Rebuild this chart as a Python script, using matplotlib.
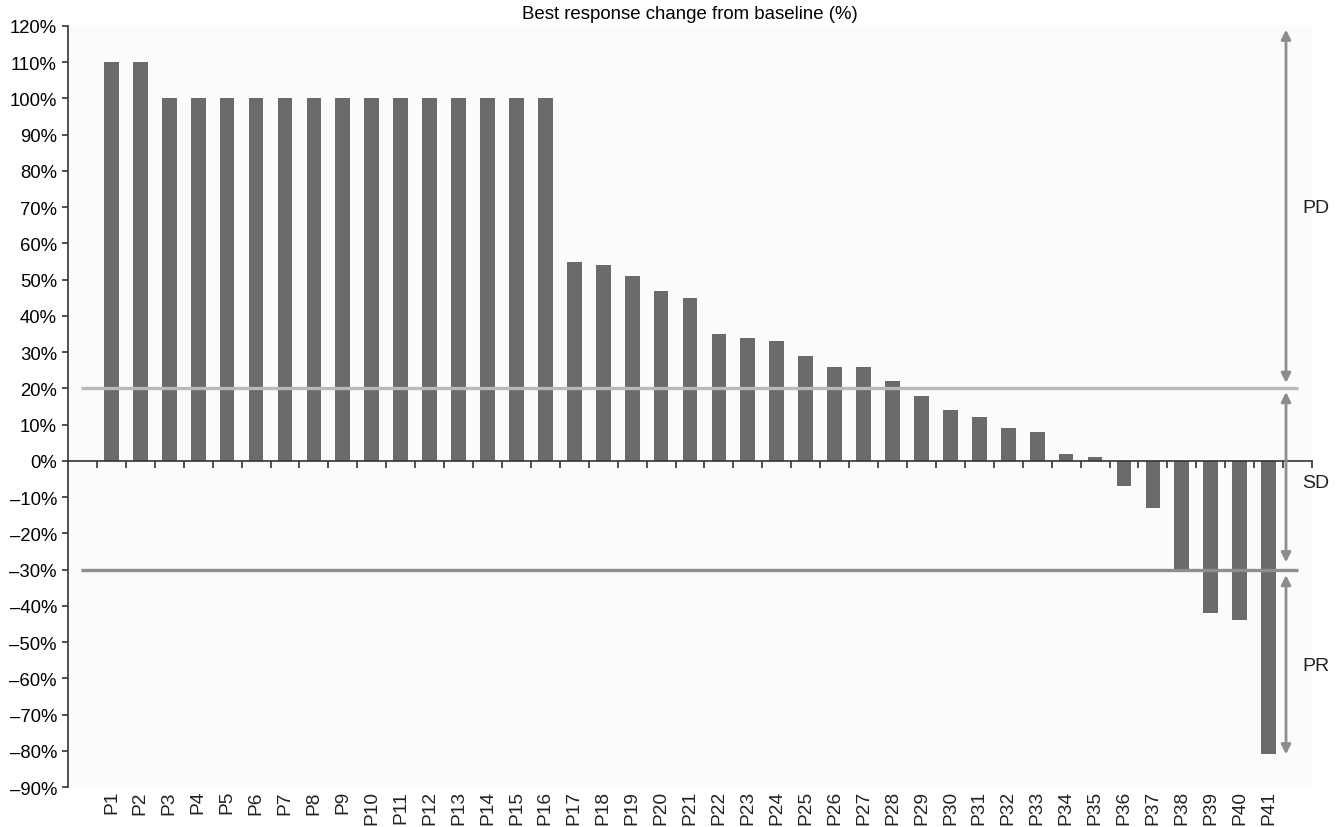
import numpy as np
import matplotlib
matplotlib.use("Agg")
import matplotlib.pyplot as plt
from matplotlib.ticker import FixedLocator

plt.rcParams['font.family'] = ['Liberation Sans', 'DejaVu Sans']

patients = ["P%d" % i for i in range(1, 42)]
change = [110, 110, 100, 100, 100, 100, 100, 100, 100, 100, 100, 100, 100, 100, 100, 100,
          55, 54, 51, 47, 45, 35, 34, 33, 29, 26, 26, 22, 18, 14, 12, 9, 8, 2, 1,
          -7, -13, -30, -42, -44, -81]
y_ticks = list(range(-90, 121, 10))
pd_cut = 20
pr_cut = -30
zones = [("PD", 119, 21.5, 70), ("SD", 19, -28, -6), ("PR", -31.5, -81, -56.5)]

fig = plt.figure(figsize=(13.41, 8.28), dpi=100)
ax = fig.add_axes([0.0507, 0.0483, 0.9277, 0.9191])
ax.set_facecolor('#fbfbfb')

x = np.arange(len(patients))
ax.bar(x, change, width=0.51, color='#6b6b6d', zorder=2)

ax.set_xlim(-1.5, len(patients) + 0.5)
ax.set_ylim(-90, 120)

# threshold lines
ax.plot([-1.05, 41.02], [pd_cut, pd_cut], color='#b9b9b9', lw=2.4, zorder=3,
        clip_on=False, solid_capstyle='butt')
ax.plot([-1.05, 41.02], [pr_cut, pr_cut], color='#8e8e8e', lw=2.4, zorder=3,
        clip_on=False, solid_capstyle='butt')

# zone arrows and labels
ax_x = 40.6
for name, top, bot, ylab in zones:
    ax.annotate('', xy=(ax_x, top), xytext=(ax_x, bot),
                arrowprops=dict(arrowstyle='<|-|>', color='#8c8c8c', lw=2,
                                mutation_scale=14, shrinkA=0, shrinkB=0),
                annotation_clip=False, zorder=4)
    ax.text(41.16, ylab, name, fontsize=14, va='center', ha='left', color='#222222')

# spines
for s in ['top', 'right']:
    ax.spines[s].set_visible(False)
ax.spines['bottom'].set_position(('data', 0))
ax.spines['left'].set_color('#333333')
ax.spines['bottom'].set_color('#333333')
ax.spines['left'].set_linewidth(1.2)
ax.spines['bottom'].set_linewidth(1.2)

ax.set_yticks(y_ticks)
ax.set_yticklabels([("%d%%" % v).replace('-', '\u2013') for v in y_ticks], fontsize=13.3)
ax.tick_params(axis='y', direction='out', length=4, width=1.2, color='#333333', pad=4)

ax.xaxis.set_major_locator(FixedLocator(np.arange(-0.5, len(patients) + 1, 1.0)))
ax.set_xticklabels([])
ax.tick_params(axis='x', direction='out', length=5, width=1.2, color='#333333')

for xi, name in zip(x, patients):
    ax.text(xi, -0.004, name, rotation=90, ha='center', va='top', fontsize=13.8,
            transform=ax.get_xaxis_transform(), color='#222222')

ax.set_title('Best response change from baseline (%)', fontsize=13.4, pad=6)

fig.savefig('out.png', dpi=100, facecolor='white')
